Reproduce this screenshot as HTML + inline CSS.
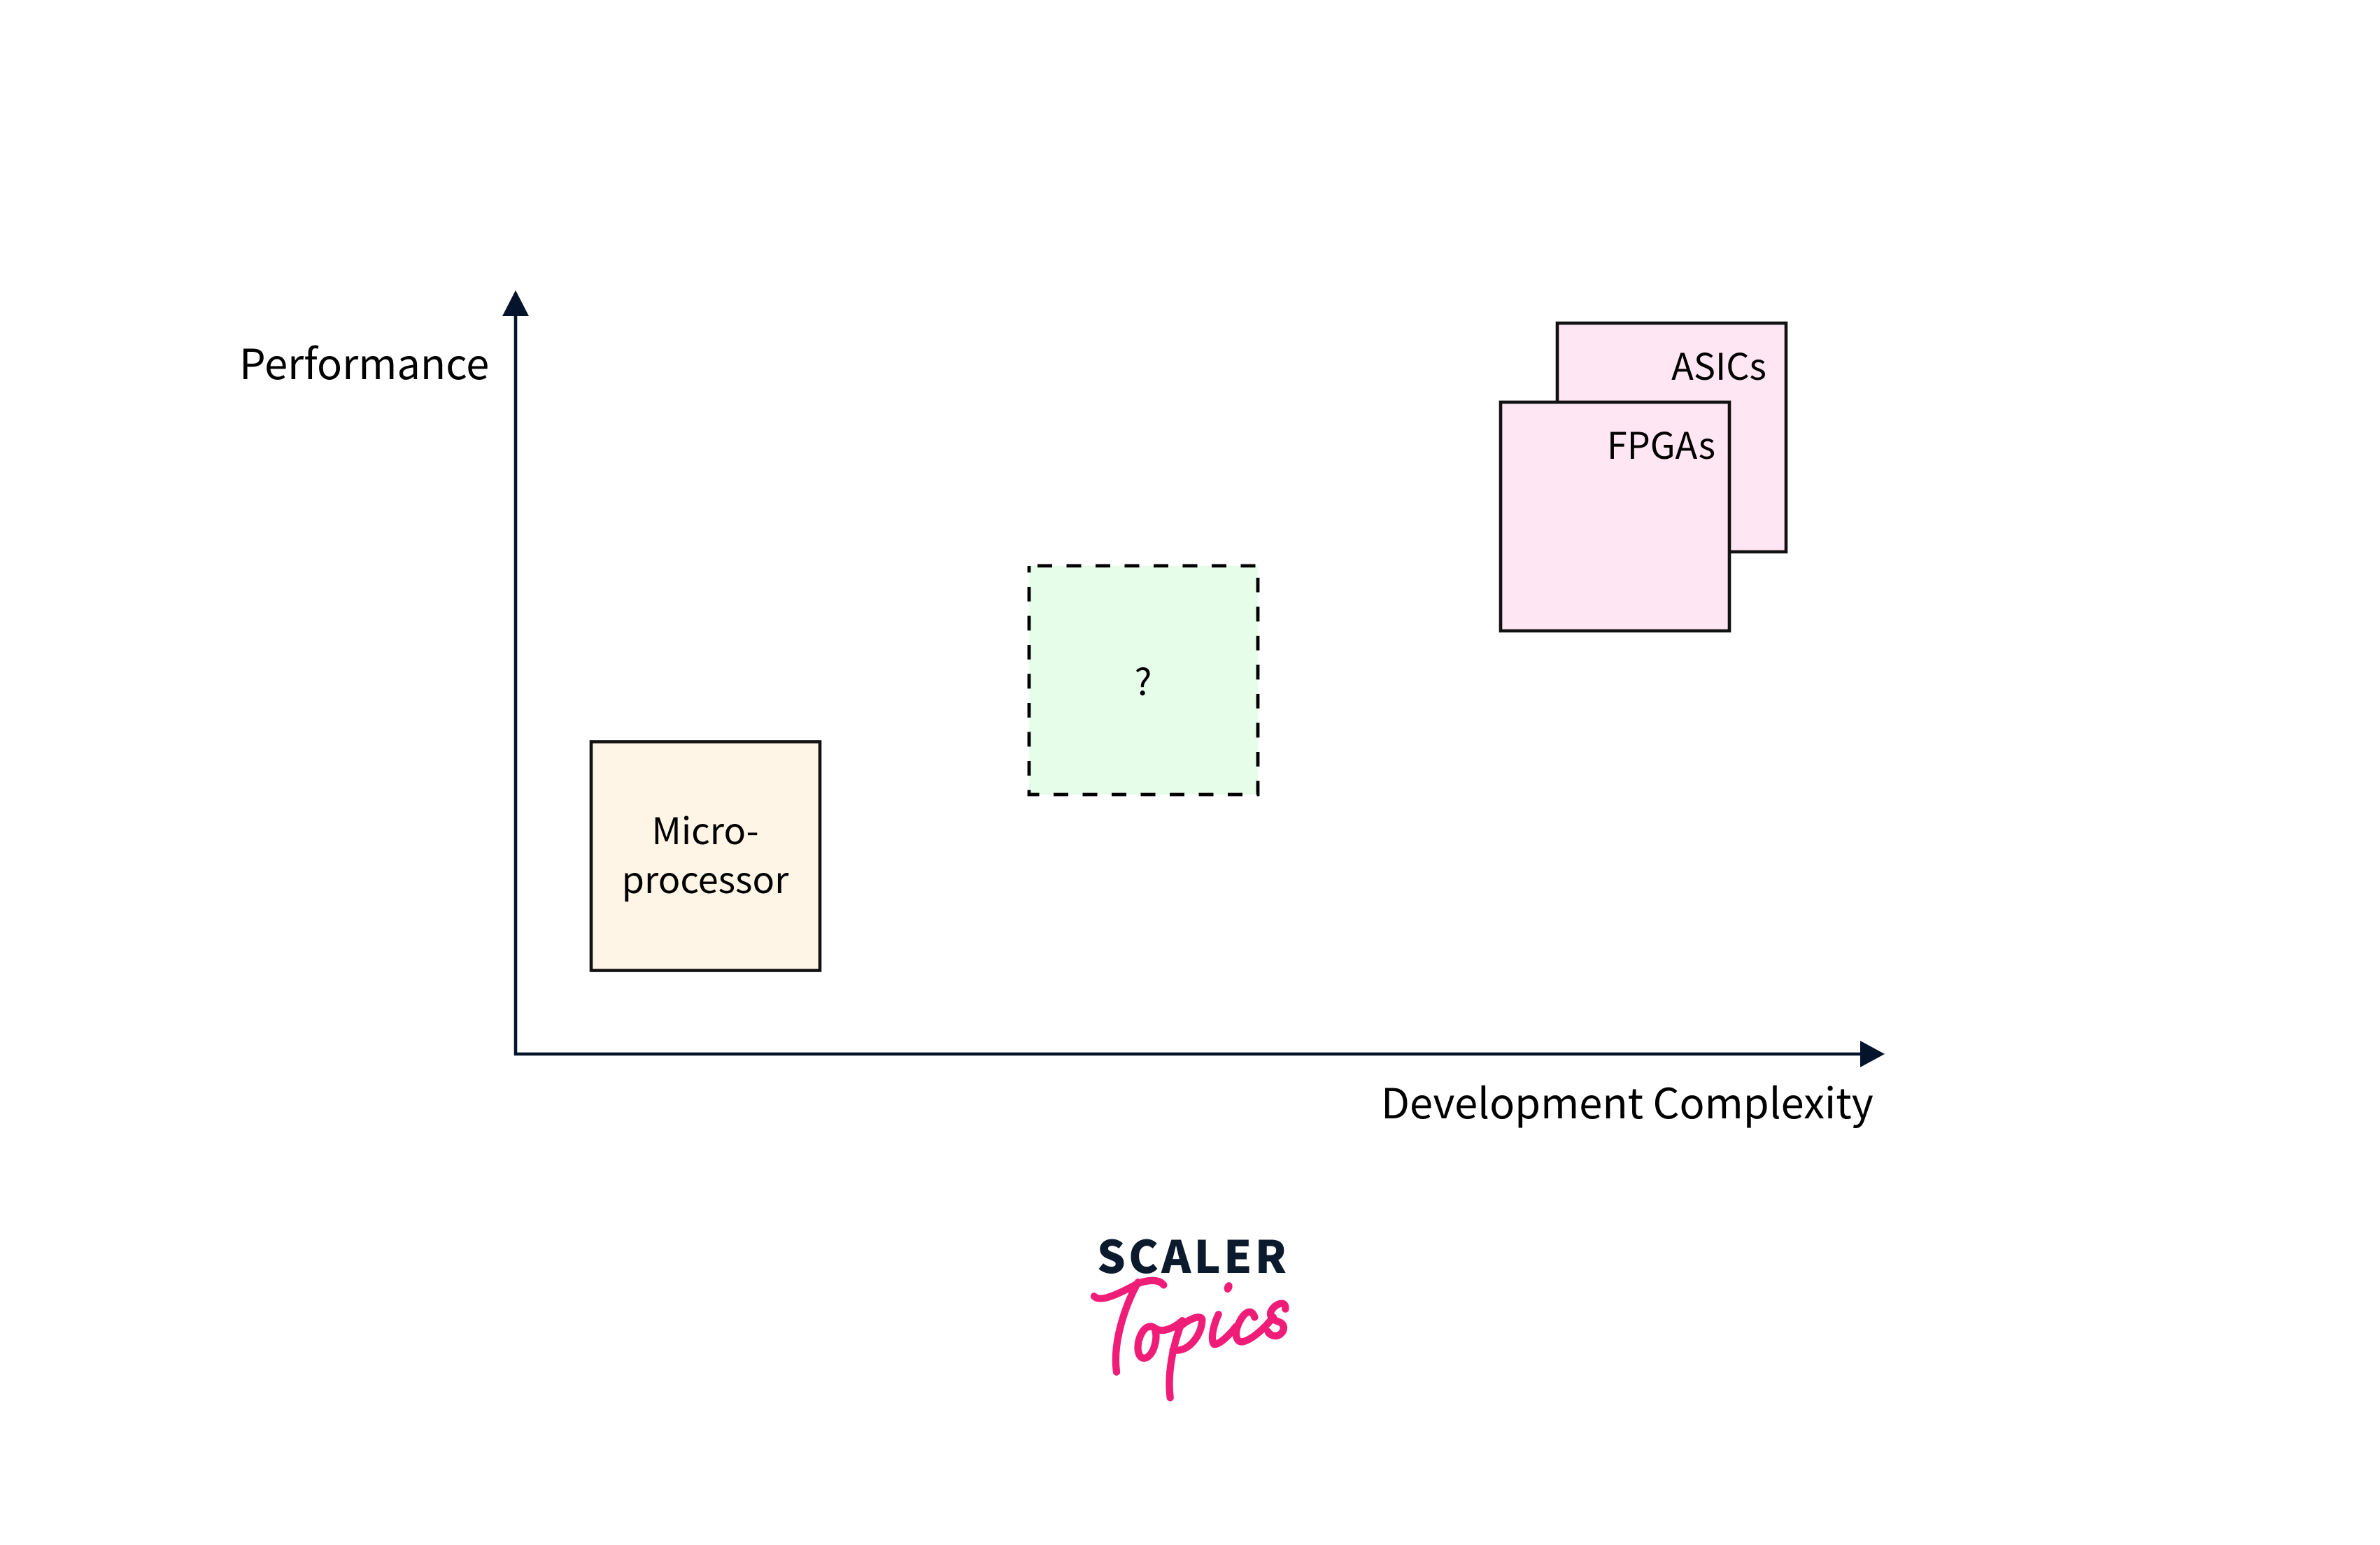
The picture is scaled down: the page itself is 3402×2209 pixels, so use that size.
<!DOCTYPE html>
<html><head><meta charset="utf-8"><style>
html,body{margin:0;padding:0;background:#fff;width:3402px;height:2209px;overflow:hidden}
svg{display:block}
text{font-family:"Noto Sans CJK JP","Noto Sans CJK SC","Liberation Sans",sans-serif;fill:#000}
.a{font-size:59.6px}.b{font-size:52.2px}
</style></head><body>
<svg width="3402" height="2209" viewBox="0 0 3402 2209" xmlns="http://www.w3.org/2000/svg">
<rect width="3402" height="2209" fill="#fff"/>
<path d="M737 450V1507H2662" fill="none" stroke="#04142c" stroke-width="4.6"/>
<path d="M737 415L756 452H718Z" fill="#04142c"/>
<path d="M2694 1507L2659 1488V1526Z" fill="#04142c"/>
<rect x="845" y="1060.5" width="327" height="327" fill="#fff5e6" stroke="#111" stroke-width="4.6"/>
<rect x="2226" y="462" width="327" height="327" fill="#ffe6f3" stroke="#111" stroke-width="4.6"/>
<rect x="2145" y="575" width="327" height="327" fill="#ffe6f3" stroke="#111" stroke-width="4.6"/>
<rect x="1471" y="809" width="327" height="327" fill="#e6fee9" stroke="#000" stroke-width="4.8" stroke-dasharray="21 20.5" stroke-dashoffset="29.5"/>
<text class="a" x="342" y="542">Performance</text>
<text class="a" x="1974" y="1599">Development Complexity</text>
<text class="b" x="1008" y="1207" text-anchor="middle">Micro-</text>
<text class="b" x="1008" y="1277" text-anchor="middle">processor</text>
<text class="b" x="1634" y="994" text-anchor="middle">?</text>
<text class="b" x="2525" y="543" text-anchor="end">ASICs</text>
<text class="b" x="2452" y="656" text-anchor="end">FPGAs</text>
<text x="1568" y="1820" font-size="64" font-weight="900" textLength="271" style="fill:#0b1a2d">SCALER</text>
<g transform="translate(1500 1750) scale(.33333)" fill="none" stroke="#f01d78" stroke-width="31" stroke-linecap="round" stroke-linejoin="round">
<path d="M192 310C215 335 280 310 380 255C420 240 470 235 490 262"/>
<path d="M380 250C330 340 270 500 288 635"/>
<path d="M450 445C410 420 375 490 380 540C385 590 425 585 445 540C455 515 465 480 450 445C480 470 530 450 570 415"/>
<path d="M570 415C530 520 505 640 518 745"/>
<path d="M550 450C590 410 650 385 655 410C655 470 600 555 530 540"/>
<path d="M725 388C705 430 690 490 705 515C720 525 770 480 800 440"/>
<path d="M880 400C870 365 840 370 815 420C790 470 800 510 830 505C870 495 920 450 960 400"/>
<path d="M1012 365C1015 335 990 335 965 355C930 390 955 410 985 420C1015 430 1010 470 975 480C955 482 940 470 938 462"/>
<ellipse cx="767" cy="272" rx="14" ry="20" fill="#f01d78" stroke-width="6" transform="rotate(20 767 272)"/>
</g>
</svg>
</body></html>
